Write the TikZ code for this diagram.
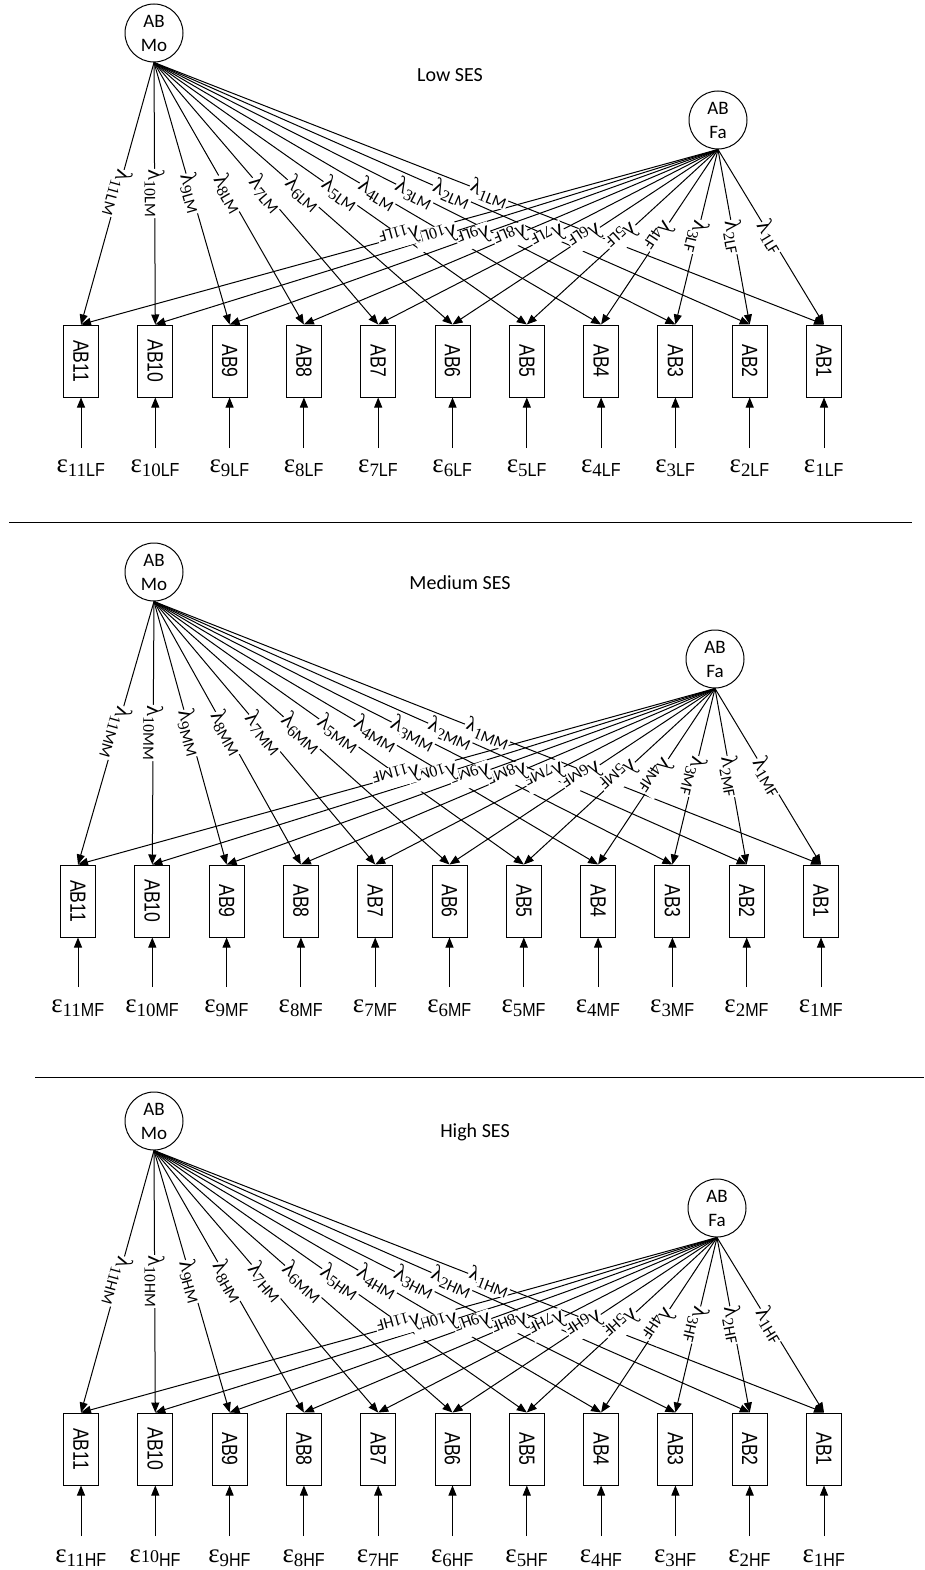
\documentclass[tikz,border=0pt]{standalone}
\usepackage{fontspec}
\usepackage{tikz}
\usetikzlibrary{arrows.meta,shapes}
\newfontfamily\calfont{Carlito}
\newfontfamily\arialfont{Liberation Sans}
\newfontfamily\timesfont{Liberation Serif}
\newcommand{\lam}[2]{{\timesfont λ\textsubscript{#1{\calfont #2}}}}
\newcommand{\eps}[2]{{\timesfont ε\textsubscript{#1{\arialfont\scalebox{0.85}[1]{#2}}}}}
\newcommand{\epsflat}[2]{{\timesfont ε{\fontsize{18}{18}\selectfont #1}\textsubscript{\arialfont\scalebox{0.85}[1]{#2}}}}
\newcommand{\abtext}[1]{\rotatebox{-90}{\scalebox{0.8}[1]{AB#1}}}

\begin{document}
\begin{tikzpicture}[x=1pt, y=-1pt,
    latent/.style={circle, draw, line width=1pt, minimum size=58pt, inner sep=0pt,
        font=\fontsize{19}{24}\selectfont\calfont, align=center},
    item/.style={rectangle, draw, line width=1pt, minimum width=35pt, minimum height=72pt,
        inner sep=0pt, font=\fontsize{22}{22}\selectfont\arialfont},
    errlbl/.style={inner sep=0pt, font=\fontsize{27}{27}\selectfont},
    title/.style={font=\fontsize{20}{20}\selectfont\calfont},
    load/.style={-{Triangle[length=10pt,width=8pt]}, line width=1pt},
    lbl/.style={sloped, allow upside down, pos=0.5, fill=white, inner sep=0.5pt,
        font=\fontsize{23}{23}\selectfont}
]
\useasboundingbox (0,0) rectangle (924,1570);

% Low SES
\node[latent] (LMo) at (154,33) {AB\\Mo};
\node[latent] (LFa) at (718,120) {AB\\Fa};
\node[title] (Ltitle) at (450,75) {Low SES};
\foreach \i in {1,...,11} {
  \node[item] (Lab\i) at ({824-74.3*(\i-1)},361) {\abtext{\i}};
  \coordinate (Lerr\i) at ({824-74.3*(\i-1)},448);
  \node[errlbl] (Leps\i) at ({824-74.3*(\i-1)},468) {\eps{\i}{LF}};
  \draw[load] (LMo.south) -- (Lab\i.north);
  \draw[load] (LFa.south) -- (Lab\i.north);
  \draw[load] (Lerr\i) -- (Lab\i.south);
}
\foreach \i in {1,...,11} {
  \path (LMo.south) -- node[lbl] {\lam{\i}{LM}} (Lab\i.north);
  \path (LFa.south) -- node[lbl] {\lam{\i}{LF}} (Lab\i.north);
}
\draw[line width=1pt] (9,522) -- (912,522);

% Medium SES
\node[latent] (MMo) at (154,572) {AB\\Mo};
\node[latent] (MFa) at (715,659) {AB\\Fa};
\node[title] (Mtitle) at (460,583) {Medium SES};
\foreach \i in {1,...,11} {
  \node[item] (Mab\i) at ({821-74.3*(\i-1)},901) {\abtext{\i}};
  \coordinate (Merr\i) at ({821-74.3*(\i-1)},987);
  \node[errlbl] (Meps\i) at ({821-74.3*(\i-1)},1008) {\eps{\i}{MF}};
  \draw[load] (MMo.south) -- (Mab\i.north);
  \draw[load] (MFa.south) -- (Mab\i.north);
  \draw[load] (Merr\i) -- (Mab\i.south);
}
\foreach \i in {1,...,11} {
  \path (MMo.south) -- node[lbl] {\lam{\i}{MM}} (Mab\i.north);
  \path (MFa.south) -- node[lbl] {\lam{\i}{MF}} (Mab\i.north);
}
\draw[line width=1pt] (35,1077) -- (924,1077);

% High SES
\node[latent] (HMo) at (154,1121) {AB\\Mo};
\node[latent] (HFa) at (717,1208) {AB\\Fa};
\node[title] (Htitle) at (475,1132) {High SES};
\foreach \i in {1,...,11} {
  \node[item] (Hab\i) at ({824-74.3*(\i-1)},1449) {\abtext{\i}};
  \coordinate (Herr\i) at ({824-74.3*(\i-1)},1536);
  \node[errlbl] (Heps\i) at ({824-74.3*(\i-1)},1558)
    {\ifnum\i=10 \epsflat{10}{HF}\else\eps{\i}{HF}\fi};
  \draw[load] (HMo.south) -- (Hab\i.north);
  \draw[load] (HFa.south) -- (Hab\i.north);
  \draw[load] (Herr\i) -- (Hab\i.south);
}
\foreach \i in {1,...,11} {
  \path (HMo.south) -- node[lbl] {\lam{\i}{\ifnum\i=6 MM\else HM\fi}} (Hab\i.north);
  \path (HFa.south) -- node[lbl] {\lam{\i}{HF}} (Hab\i.north);
}
\end{tikzpicture}
\end{document}
